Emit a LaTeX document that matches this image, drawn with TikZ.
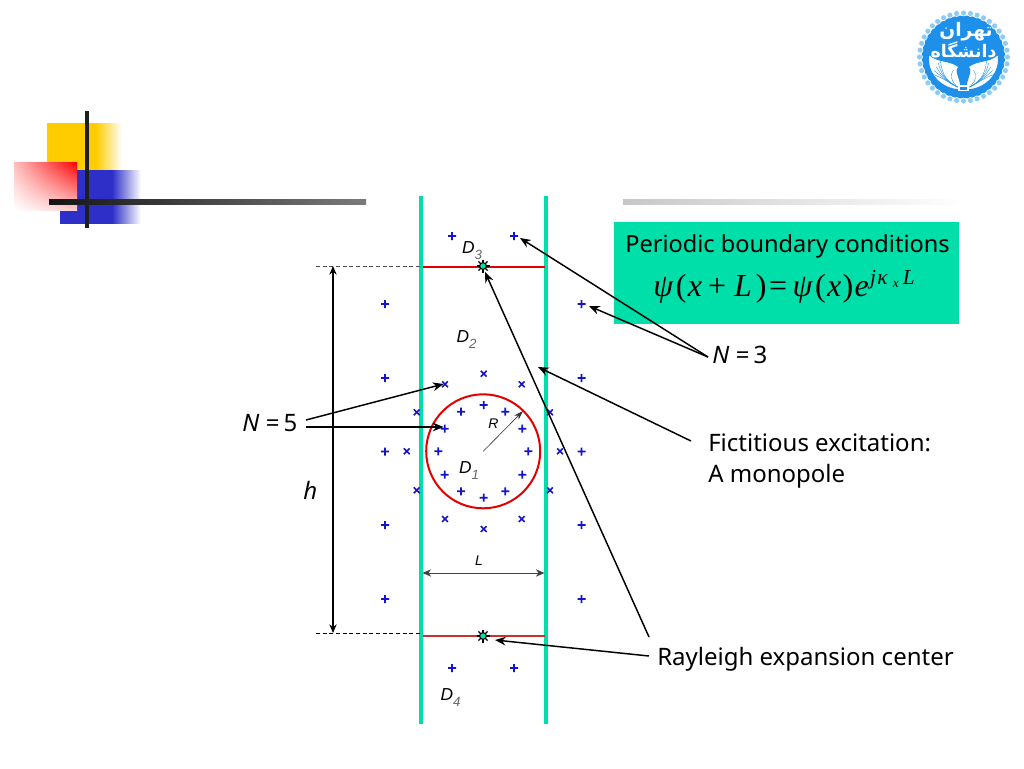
\documentclass[tikz,border=0pt]{standalone}
\usepackage{fontspec}
\setmainfont{Noto Sans}
\newfontfamily\lab{Liberation Sans}
\newfontfamily\ser{Liberation Serif}
\newfontfamily\arabicfont[Script=Arabic]{DejaVu Sans}
\TeXXeTstate=1
\usetikzlibrary{arrows.meta,calc,shadings}
\definecolor{mint}{HTML}{00DFA9}
\definecolor{plusblue}{HTML}{1414C8}
\definecolor{logoblue}{HTML}{1E90EA}
\definecolor{beadblue}{HTML}{8CCBF5}
\definecolor{decoyellow}{RGB}{255,204,0}
\definecolor{decoblue}{RGB}{46,46,200}
\definecolor{pinka}{RGB}{255,190,190}
\definecolor{pinkb}{RGB}{255,205,205}
\definecolor{dullred}{RGB}{200,50,50}
\newcommand{\dlabel}[2]{\fontsize{13}{13}\selectfont #1\raisebox{-4.5pt}{\fontsize{10}{10}\selectfont\color{black!60}#2}}
\tikzset{
  arrowline/.style={draw=black,line width=1.1pt,-{Stealth[length=8pt,width=6.5pt]}},
  wall/.style={draw=mint,line width=2.6pt},
  cutline/.style={draw=red!90!black,line width=1.5pt},
  guide/.style={draw=black!70,line width=0.6pt,densely dashed},
  bigtext/.style={font=\fontsize{18}{22}\selectfont,anchor=base west,inner sep=0pt},
  small/.style={font=\lab\itshape\fontsize{10.5}{12}\selectfont,inner sep=0pt},
  wing/.style={fill=white,draw=white,line width=0.3pt},
  feather/.style={draw=logoblue,line width=0.3pt},
  dim/.style={draw=black,line width=0.7pt,{Stealth[length=6.5pt,width=5.5pt]}-{Stealth[length=6.5pt,width=5.5pt]}},
  plusmark/.style={draw=plusblue,line width=1.2pt},
}
\newcommand{\starmark}[1]{%
  \foreach \a in {0,45,...,315}{\draw[black,line width=0.9pt] (#1) -- ++(\a:6.5);}
  \fill[mint,draw=black,line width=0.8pt] (#1) circle (3.4);}
\begin{document}
\begin{tikzpicture}[x=0.75pt,y=-0.75pt]
\useasboundingbox (0,0) rectangle (1024,768);
% decoration top-left
\fill[decoyellow] (47,123) rectangle (96,170);
\shade[left color=decoyellow,right color=white] (96,123) rectangle (122,170);
\fill[decoblue] (60,210) rectangle (77,223.5);
\fill[decoblue] (77,170) rectangle (112,223.5);
\shade[left color=decoblue,right color=white] (112,170) rectangle (141,223.5);
\shade[upper right=red,lower left=white,upper left=pinka,lower right=pinkb] (14,162) rectangle (77,210);
\fill[black!88] (85,111) rectangle (89,228);
\shade[left color=black!92,right color=black!52] (49,199) rectangle (366,204.5);
\shade[left color=black!22,right color=white] (623,199) rectangle (965,204);
% logo
\fill[logoblue] (963.5,57) circle (41.5);
\foreach \a in {0,9,...,351}{\fill[beadblue,draw=white,line width=0.4pt] (963.5,57) ++(\a:44) circle (3);}
\node[text=white,font=\arabicfont\bfseries\fontsize{14}{15}\selectfont,inner sep=0pt] (logotop) at (966,32) {\beginR تهران\endR};
\node[text=white,font=\arabicfont\bfseries\fontsize{13}{14}\selectfont,inner sep=0pt] (logomid) at (963.5,50) {\beginR دانشگاه\endR};
\foreach \s in {1,-1}{
  \begin{scope}[shift={(963.5,57)},xscale=\s]
  \filldraw[wing] (4,32) .. controls (22,31) and (36,16) .. (34,-1) .. controls (26,6) and (14,4) .. (6,10) .. controls (10,16) and (2,24) .. (4,32) -- cycle;
  \foreach \b in {3,8,13,18,23}{\draw[feather] (6,30) .. controls (14,26) and (22,20) .. (22+\b*0.4,\b*0.75);}
  \draw[feather] (10,13) .. controls (14,18) and (12,24) .. (8,28);
  \end{scope}
}
\fill[white] (958,91) -- ++(11,0) -- ++(0,-6) -- ++(-11,0) -- cycle;
\fill[logoblue] (960,87) rectangle (967,90);
% mint box
\fill[mint] (614,222) rectangle (959,324);
\node[bigtext,font=\fontsize{17.67}{22}\selectfont] (pbc) at (625,252) {Periodic boundary conditions};
\node[font=\ser\fontsize{24}{26}\selectfont,anchor=base west,inner sep=0pt] (formula) at (653,296) {%
  {\itshape ψ}\kern2pt(\kern1pt{\itshape x}\kern4.5pt+\kern6pt{\itshape L}\kern3pt)\kern2pt=\kern4pt{\itshape ψ}\kern2pt(\kern1pt{\itshape x}\kern1pt)\kern1pt{\itshape e}\kern1pt\raisebox{8.6pt}{\fontsize{16}{17}\selectfont{\itshape j}\kern1pt{\itshape κ}\kern4pt\raisebox{-2pt}{\fontsize{10}{10}\selectfont\itshape x}\kern3pt{\itshape L}}};
% walls
\coordinate (wl1) at (421,196); \coordinate (wl2) at (421,724);
\coordinate (wr1) at (546,196); \coordinate (wr2) at (546,724);
\draw[wall] (wl1) -- (wl2);
\draw[wall] (wr1) -- (wr2);
\coordinate (ctop) at (483,266); \coordinate (cbot) at (483,636);
\draw[cutline] (422.5,266.5) -- (544.5,266.5);
\draw[cutline,draw=dullred] (422.5,635.8) -- (544.5,635.8);
\draw[guide] (316,266) -- (420,266);
\draw[guide,draw=black] (316,633) -- (420,633);
% circle
\coordinate (cen) at (483.2,451.3);
\draw[red!90!black,line width=1.5pt] (cen) circle (57);
% marks
\fill[plusblue] foreach \mx/\my in {483.7/405,461/411.7,505.3/411.7,444.7/428.7,522.3/428.7,438.3/451.3,528.3/451.3,444.7/474.7,522.3/474.7,461/491.3,505.3/491.3,483.7/497.7,
  385/304,385/378,385/451.5,385/525,385/599,581.5/304,581.5/378,581.5/451.5,581.5/525,581.5/599,
  452/236,514/236,452/668,514/668}{(\mx-4,\my-0.85) rectangle (\mx+4,\my+0.85) (\mx-0.85,\my-4) rectangle (\mx+0.85,\my+4)};
\draw[plusmark] foreach \mx/\my in {483.7/373.7,445/384.3,521.7/384.3,416.7/412.3,550/412.3,406.7/451.3,560/451.3,416.7/490.3,550/490.3,445/519,521.7/519,483.7/529}{(\mx-2.9,\my-2.9) -- (\mx+2.9,\my+2.9) (\mx-2.9,\my+2.9) -- (\mx+2.9,\my-2.9)};
\starmark{ctop}
\starmark{cbot}
% small labels
\node[small] (d3) at (472,251) {\dlabel{D}{3}};
\node[small] (d2) at (466.5,340) {\dlabel{D}{2}};
\node[small] (d1) at (469,470.5) {\dlabel{D}{1}};
\node[small] (d4) at (450.5,698) {\dlabel{D}{4}};
\node[small] (rr) at (493.5,424) {R};
\node[small] (ll) at (479,561) {L};
% R radius, dims
\coordinate (rtip) at (523,411);
\draw[draw=black!80,line width=0.45pt,-{Stealth[length=7pt,width=4.5pt]}] (cen) -- (rtip);
\coordinate (la) at (422.5,573); \coordinate (lb) at (544.5,573);
\draw[dim,draw=black!75] (la) -- (lb);
\coordinate (ha) at (333,266); \coordinate (hb) at (333,633);
\draw[dim,line width=0.8pt] (ha) -- (hb);
% big labels
\node[bigtext] (n5) at (242,431) {{\itshape N}\kern5pt=\kern3pt5};
\node[bigtext] (n3) at (712,363) {{\itshape N}\kern5pt=\kern3pt3};
\node[bigtext] (hh) at (303,499) {\itshape h};
\node[bigtext] (fe1) at (708,451) {Fictitious excitation:};
\node[bigtext] (fe2) at (708,482) {A monopole};
\node[bigtext] (ray) at (657,665) {Rayleigh expansion center};
% arrows
\coordinate (n5s1) at (306,420); \coordinate (n5t1) at (443.5,384);
\coordinate (n5s2) at (306,427); \coordinate (n5t2) at (443.5,427);
\coordinate (n3s) at (708,357); \coordinate (n3t1) at (520,238); \coordinate (n3t2) at (589,306);
\coordinate (fes) at (691,441); \coordinate (fet) at (538,367);
\coordinate (rs1) at (649,637); \coordinate (rt1) at (485,272);
\coordinate (rs2) at (649,656); \coordinate (rt2) at (495,640);
\draw[arrowline] (n5s1) -- (n5t1);
\draw[arrowline] (n5s2) -- (n5t2);
\draw[arrowline] (n3s) -- (n3t1);
\draw[arrowline] (n3s) -- (n3t2);
\draw[arrowline] (fes) -- (fet);
\draw[arrowline] (rs1) -- (rt1);
\draw[arrowline] (rs2) -- (rt2);
\end{tikzpicture}
\end{document}
